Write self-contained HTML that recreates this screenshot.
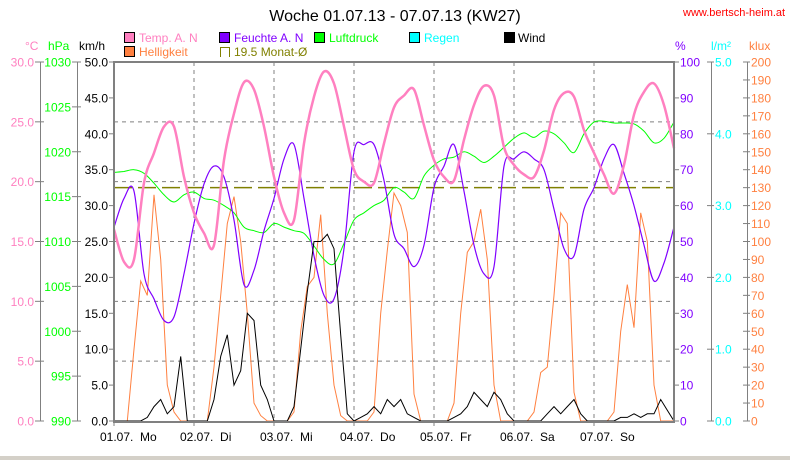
<!DOCTYPE html>
<html><head><meta charset="utf-8"><style>
html,body{margin:0;padding:0;background:#fff;}
svg{display:block;font-family:"Liberation Sans",sans-serif;}
</style></head><body>
<svg id="chart" width="790" height="460" viewBox="0 0 790 460">
<text x="395" y="21" font-size="16" text-anchor="middle" fill="#000">Woche 01.07.13 - 07.07.13 (KW27)</text>
<text x="683" y="16" font-size="11" fill="#ff0000">www.bertsch-heim.at</text>
<g font-size="12">
 <g><rect x="124.5" y="32.5" width="10" height="10" fill="#ff80c0" stroke="#000"/><text x="139" y="42" fill="#ff80c0">Temp. A. N</text></g>
 <g><rect x="219.5" y="32.5" width="10" height="10" fill="#8000ff" stroke="#000"/><text x="234" y="42" fill="#8000ff">Feuchte A. N</text></g>
 <g><rect x="314.5" y="32.5" width="10" height="10" fill="#00ff00" stroke="#000"/><text x="329" y="42" fill="#00ff00">Luftdruck</text></g>
 <g><rect x="409.5" y="32.5" width="10" height="10" fill="#00ffff" stroke="#000"/><text x="424" y="42" fill="#00ffff">Regen</text></g>
 <g><rect x="504.5" y="32.5" width="10" height="10" fill="#000" stroke="#000"/><text x="518" y="42" fill="#000">Wind</text></g>
 <g><rect x="124.5" y="46.5" width="10" height="10" fill="#ff8040" stroke="#000"/><text x="139" y="56" fill="#ff8040">Helligkeit</text></g>
 <g><path d="M220.5 57 V47.5 H229.5 V57" fill="none" stroke="#808000"/><text x="234" y="56" fill="#808000">19.5 Monat-Ø</text></g>
</g>
<g font-size="12">
 <text x="25" y="50" fill="#ff80c0">°C</text>
 <text x="48" y="50" fill="#00ff00">hPa</text>
 <text x="79" y="50" fill="#000">km/h</text>
 <text x="675" y="50" fill="#8000ff">%</text>
 <text x="711" y="50" fill="#00ffff">l/m²</text>
 <text x="749" y="50" fill="#ff8040">klux</text>
</g>
<g id="grid"></g>
<g id="series"></g>
<g id="axes"></g>
<rect x="0" y="456" width="790" height="4" fill="#d4d0c8"/>
</svg>
<script>
const temps = [16.0,13.3,13.5,19.9,22.4,24.6,24.6,20.4,17.4,15.7,14.7,21.8,25.7,28.3,27.7,24.6,20.4,17.4,16.8,23.2,27.1,29.2,28.2,24.6,21.0,20.0,19.9,23.2,26.2,27.2,27.7,24.7,21.8,20.4,20.1,23.5,26.4,28.0,27.2,22.9,21.4,20.6,20.4,22.6,26.0,27.4,27.1,24.3,22.4,20.6,19.0,21.4,25.6,27.5,28.2,26.4,22.8];
const humidity = [54,62,64,41,34,28,29,41,55,66,71,68,56,38,42,53,62,73,77,62,46,35,34,48,75,77,77,67,52,48,43,49,65,71,77,64,49,41,43,71,73,75,73,70,59,48,46,59,65,73,77,69,60,49,39,44,54];
const pressure = [1017.7,1017.8,1018,1017.6,1016.5,1015.2,1014.4,1015.2,1015.5,1014.8,1014.6,1014,1013.2,1011.6,1011.2,1011,1012,1011.6,1011.2,1010.9,1009.5,1008,1007.5,1009.8,1012.4,1013.2,1014,1014.6,1016,1015.5,1014.8,1017.3,1018.5,1019.2,1019.4,1020,1019.5,1018.8,1019.5,1020.5,1021.5,1022.1,1021.6,1022.3,1022,1021,1019.9,1022,1023.3,1023.4,1023.2,1023.2,1023.1,1022.3,1021,1021.5,1023.3];
const brightness = [0,0,0,40,78,70,126,90,20,5,0,0, 0,0,0,30,70,110,125,100,60,10,3,0, 0,0,0,5,50,75,80,115,60,20,3,0, 0,0,0,5,60,95,127,120,105,15,0,0, 0,0,0,10,60,94,100,118,90,20,0,0, 0,0,0,5,27,30,70,116,110,16,0,0, 0,0,0,5,50,76,52,116,100,20,0,0, 0];
const wind = [0,0,0,0,0,0.5,2,3,1,2,9,0, 0,0,0,3,9,12,5,7,15,14,5,3, 0,0,0,2,10,18,25,25,26,24,12,1, 0,0.5,1,2,1,3,2,3,1,0.5,0,0, 0,0,0,0.5,1,2,4,3,2,4,3,1, 0,0,0,0,0,1,2,1,2,3,1,0, 0,0,0,0,0.5,0.5,1,0.5,1,1,3,1.5, 0];
const monthAvg = 19.5;
const dayLabels = ["01.07.  Mo","02.07.  Di","03.07.  Mi","04.07.  Do","05.07.  Fr","06.07.  Sa","07.07.  So"];
const tempTicks = ["0.0","5.0","10.0","15.0","20.0","25.0","30.0"];
const hpaTicks = ["990","995","1000","1005","1010","1015","1020","1025","1030"];
const kmhTicks = ["0.0","5.0","10.0","15.0","20.0","25.0","30.0","35.0","40.0","45.0","50.0"];
const pctTicks = ["0","10","20","30","40","50","60","70","80","90","100"];
const rainTicks = ["0.0","1.0","2.0","3.0","4.0","5.0"];

const NS="http://www.w3.org/2000/svg";
const X0=114,X1=674,Y0=62,Y1=421,H=Y1-Y0,HOURS=168;
const xh=h=>X0+h/HOURS*(X1-X0);
const yT=v=>Y1-v/30*H, yP=v=>Y1-(v-990)/40*H, yH=v=>Y1-v/100*H, yK=v=>Y1-v/200*H, yW=v=>Y1-v/50*H;
function mk(tag,attrs,parent){const e=document.createElementNS(NS,tag);for(const k in attrs)e.setAttribute(k,attrs[k]);parent.appendChild(e);return e;}
const grid=document.getElementById('grid'),series=document.getElementById('series'),axes=document.getElementById('axes');

for(let d=1;d<7;d++){const x=xh(d*24);const l=mk('line',{x1:x,y1:Y0,x2:x,y2:Y1,stroke:'#808080','stroke-dasharray':'4,4'},grid);

}
for(let v=5;v<30;v+=5){const y=yT(v);const l=mk('line',{x1:X0,y1:y,x2:X1,y2:y,stroke:'#808080','stroke-dasharray':'4,4'},grid);

}

function smooth(pts){let d='M'+pts[0][0]+' '+pts[0][1];for(let i=0;i<pts.length-1;i++){const p0=pts[i-1]||pts[i],p1=pts[i],p2=pts[i+1],p3=pts[i+2]||p2;
d+=' C'+(p1[0]+(p2[0]-p0[0])/6).toFixed(1)+' '+(p1[1]+(p2[1]-p0[1])/6).toFixed(1)+' '+(p2[0]-(p3[0]-p1[0])/6).toFixed(1)+' '+(p2[1]-(p3[1]-p1[1])/6).toFixed(1)+' '+p2[0].toFixed(1)+' '+p2[1].toFixed(1);}return d;}
function poly(arr,step,yf){return arr.map((v,i)=>xh(i*step).toFixed(1)+','+yf(v).toFixed(1)).join(' ');}

const avg=mk('line',{x1:X0,y1:yT(monthAvg),x2:X1,y2:yT(monthAvg),stroke:'#808000','stroke-width':1.5,'stroke-dasharray':'18,6'},series);


const br=mk('polyline',{points:poly(brightness,2,yK),fill:'none',stroke:'#ff8040','stroke-width':1},series);


const pr=mk('path',{d:smooth(pressure.map((v,i)=>[xh(i*3),yP(v)])),fill:'none',stroke:'#00ff00','stroke-width':1},series);


const hu=mk('path',{d:smooth(humidity.map((v,i)=>[xh(i*3),yH(v)])),fill:'none',stroke:'#8000ff','stroke-width':1.2},series);


const te=mk('path',{d:smooth(temps.map((v,i)=>[xh(i*3),yT(v)])),fill:'none',stroke:'#ff80c0','stroke-width':2.5},series);


const wi=mk('polyline',{points:poly(wind,2,yW),fill:'none',stroke:'#000','stroke-width':1},series);



// plot frame
const fr=mk('path',{d:`M${X0} ${Y0} H${X1} V${Y1+1} H${X0} Z`,fill:'none',stroke:'#808080','stroke-width':2},axes);


function axis(name,xLine,ticks,color,yf,vals,side,tx1,tx2){
 const g=mk('g',{'font-size':12,fill:color},axes);
 
 
 if(xLine!==null) mk('line',{x1:xLine,y1:Y0,x2:xLine,y2:Y1,stroke:'#808080'},g);
 ticks.forEach((t,i)=>{const y=yf(vals[i]);mk('line',{x1:tx1,y1:y,x2:tx2,y2:y,stroke:'#808080'},g);
  const tt=mk('text',{x:side==='l'?tx1-1:tx2+1,y:y+4.5,'text-anchor':side==='l'?'end':'start'},g);tt.textContent=t;});
}
axis('y-axis-celsius',40.5,tempTicks,'#ff80c0',yT,tempTicks.map(Number),'l',35,44);
axis('y-axis-hpa',77.5,hpaTicks,'#00ff00',yP,hpaTicks.map(Number),'l',72,81);
axis('y-axis-kmh',null,kmhTicks,'#000',yW,kmhTicks.map(Number),'l',109,114);
axis('y-axis-percent',null,pctTicks,'#8000ff',yH,pctTicks.map(Number),'r',674,679);
axis('y-axis-rain',711.5,rainTicks,'#00ffff',v=>Y1-v/5*H,rainTicks.map(Number),'r',707,714);
const kl=[];for(let v=0;v<=200;v+=10)kl.push(String(v));
axis('y-axis-klux',747.5,kl,'#ff8040',yK,kl.map(Number),'r',743,750);

dayLabels.forEach((s,i)=>{const x=xh(i*24);
 const tk=mk('line',{x1:x,y1:Y1,x2:x,y2:Y1+5,stroke:'#808080'},axes);
 
 
 const t=mk('text',{x:x-14,y:441,'font-size':12,fill:'#000','xml:space':'preserve'},axes);
 
 
 t.setAttribute('style','white-space:pre');
 t.textContent=s;});
</script>
</body></html>
